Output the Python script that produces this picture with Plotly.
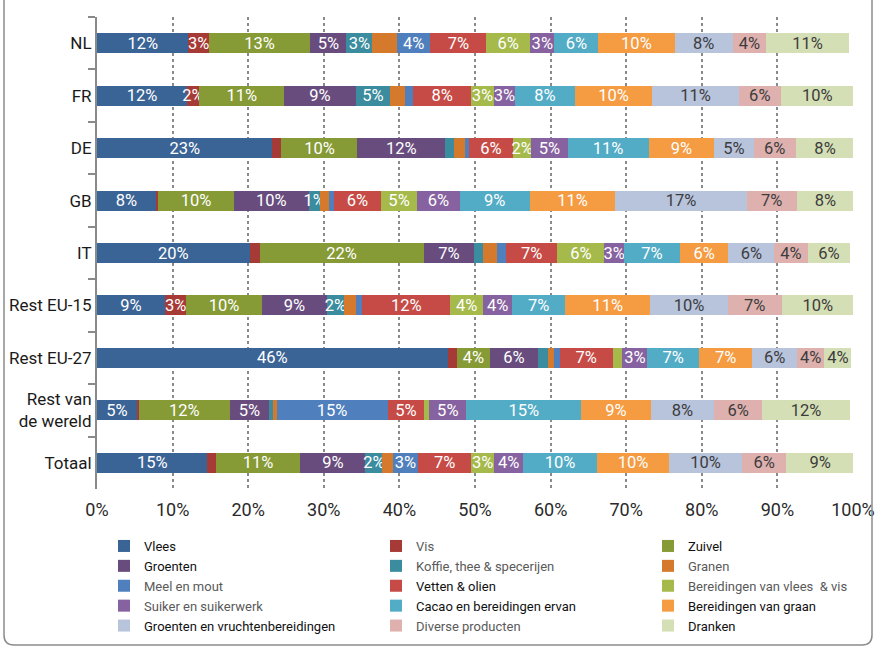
import plotly.graph_objects as go

# Export share per product group, per market (percent of total)
regions = ["NL", "FR", "DE", "GB", "IT", "Rest EU-15", "Rest EU-27",
           "Rest van<br>de wereld", "Totaal"]

vlees = [12.1, 11.9, 23.2, 7.8, 20.2, 9.0, 46.4, 5.25, 14.6]
vis = [2.7, 1.6, 1.2, 0.3, 1.3, 2.8, 1.2, 0.3, 1.1]
zuivel = [13.4, 11.3, 10.05, 10.0, 21.7, 10.0, 4.4, 12.0, 11.2]
groenten = [4.8, 9.4, 11.6, 9.9, 6.7, 8.6, 6.3, 5.2, 8.6]
koffie = [3.4, 4.6, 1.2, 1.45, 1.1, 2.3, 1.3, 0.5, 2.25]
granen = [3.3, 1.9, 1.4, 1.2, 1.9, 1.5, 0.9, 0.5, 1.4]
meel = [4.4, 1.1, 0.5, 0.7, 1.2, 0.9, 0.7, 14.7, 3.3]
vetten = [7.4, 7.7, 5.9, 6.2, 6.8, 11.6, 7.0, 4.8, 7.05]
ber_vlees = [5.8, 2.95, 2.4, 4.8, 6.2, 4.4, 1.3, 0.7, 3.0]
suiker = [3.2, 2.87, 4.8, 5.6, 2.6, 3.8, 3.3, 4.9, 3.9]
cacao = [5.8, 7.85, 10.7, 9.3, 7.4, 7.05, 6.8, 15.2, 9.7]
ber_graan = [10.1, 10.3, 8.7, 11.3, 6.4, 11.2, 7.1, 9.2, 9.6]
groenten_vrucht = [7.7, 11.4, 5.2, 17.4, 6.1, 10.3, 5.9, 8.4, 9.6]
diverse = [4.4, 5.6, 5.6, 6.6, 4.4, 7.1, 3.6, 6.3, 5.9]
dranken = [11.0, 9.6, 7.7, 7.6, 5.6, 9.6, 3.6, 11.7, 8.9]

x_ticks = [0, 10, 20, 30, 40, 50, 60, 70, 80, 90, 100]
x_ticktext = [f"{v}%" for v in x_ticks]

# (name, values, fill colour, label colour, legend text colour, labelled)
series = [
    ("Vlees", vlees, "#3B6496", "white", "#111111", True),
    ("Vis", vis, "#A63A36", "white", "#5a5a5a", True),
    ("Zuivel", zuivel, "#869A36", "white", "#111111", True),
    ("Groenten", groenten, "#684C7E", "white", "#111111", True),
    ("Koffie, thee &amp; specerijen", koffie, "#3A8C9E", "white", "#5a5a5a", True),
    ("Granen", granen, "#D57A2C", "white", "#5a5a5a", False),
    ("Meel en mout", meel, "#4F80BD", "white", "#5a5a5a", True),
    ("Vetten &amp; olien", vetten, "#C64B47", "white", "#111111", True),
    ("Bereidingen van vlees  &amp; vis", ber_vlees, "#A5BA4B", "white", "#5a5a5a", True),
    ("Suiker en suikerwerk", suiker, "#8762A0", "white", "#5a5a5a", True),
    ("Cacao en bereidingen ervan", cacao, "#53ACC6", "white", "#111111", True),
    ("Bereidingen van graan", ber_graan, "#F59B42", "white", "#111111", True),
    ("Groenten en vruchtenbereidingen", groenten_vrucht, "#B8C3DC", "#3c3c3c", "#111111", True),
    ("Diverse producten", diverse, "#DEB1AF", "#3c3c3c", "#5a5a5a", True),
    ("Dranken", dranken, "#D5DFB5", "#3c3c3c", "#111111", True),
]

MIN_LABEL = 1.45  # segments narrower than this carry no label
FONT = "Roboto, Lato, sans-serif"
BAR_FONT_SIZE = 16.5

fig = go.Figure()
for name, vals, color, txtcolor, legcolor, labelled in series:
    texts = [f"{v:.0f}%" if (labelled and v >= MIN_LABEL) else "" for v in vals]
    fig.add_trace(go.Bar(
        y=regions, x=vals, orientation="h",
        name=f"<span style='color:{legcolor}'>{name}</span>",
        marker=dict(color=color, line=dict(width=0)),
        text=texts, textposition="inside", insidetextanchor="middle",
        textangle=0,
        textfont=dict(color=txtcolor, size=BAR_FONT_SIZE, family=FONT),
        hoverinfo="x+y+name",
    ))

# Page geometry (pixels) for paper coordinates
W, H = 876, 648
ML, MR, MT, MB = 20, 23, 17, 159
gw, gh = W - ML - MR, H - MT - MB


def px(x):
    return (x - ML) / gw


def py(y):
    return (H - MB - y) / gh


xl, xr, yb, yt = px(4), px(872), py(645), py(-3)
rx, ry = 10 / gw, 10 / gh
frame = (f"M{xl},{yt} L{xl},{yb + ry} Q{xl},{yb} {xl + rx},{yb} "
         f"L{xr - rx},{yb} Q{xr},{yb} {xr},{yb + ry} L{xr},{yt}")

fig.update_layout(
    width=W, height=H,
    margin=dict(l=ML, r=MR, t=MT, b=MB, autoexpand=False),
    barmode="stack", bargap=0.62,
    plot_bgcolor="white", paper_bgcolor="white",
    font=dict(family=FONT, color="#222222"),
    uniformtext=dict(minsize=BAR_FONT_SIZE, mode="show"),
    xaxis=dict(
        domain=[px(97), 1], range=[0, 100],
        tickmode="array", tickvals=x_ticks, ticktext=x_ticktext,
        showgrid=True, gridcolor="#8a8a8a", griddash="dot", gridwidth=2,
        zeroline=False, showline=False,
        ticks="outside", ticklen=4, tickcolor="rgba(0,0,0,0)",
        tickfont=dict(size=18, color="#2a2a2a"),
        automargin=False, fixedrange=True,
    ),
    yaxis=dict(
        autorange="reversed", type="category",
        showline=True, linecolor="#8a8a8a", linewidth=2,
        ticks="outside", tickson="boundaries", ticklen=7,
        tickcolor="#8a8a8a", tickwidth=2,
        showgrid=False, tickfont=dict(size=17, color="#1a1a1a"),
        automargin=False, fixedrange=True,
    ),
    legend=dict(
        orientation="h", x=px(104), xanchor="left",
        y=py(531), yanchor="top",
        entrywidth=227, entrywidthmode="pixels",
        traceorder="normal", font=dict(size=13, family=FONT),
        bgcolor="rgba(0,0,0,0)",
    ),
    shapes=[dict(type="path", xref="paper", yref="paper", path=frame,
                 line=dict(color="#8c8c8c", width=1.5))],
)

fig.write_html("out.html")
